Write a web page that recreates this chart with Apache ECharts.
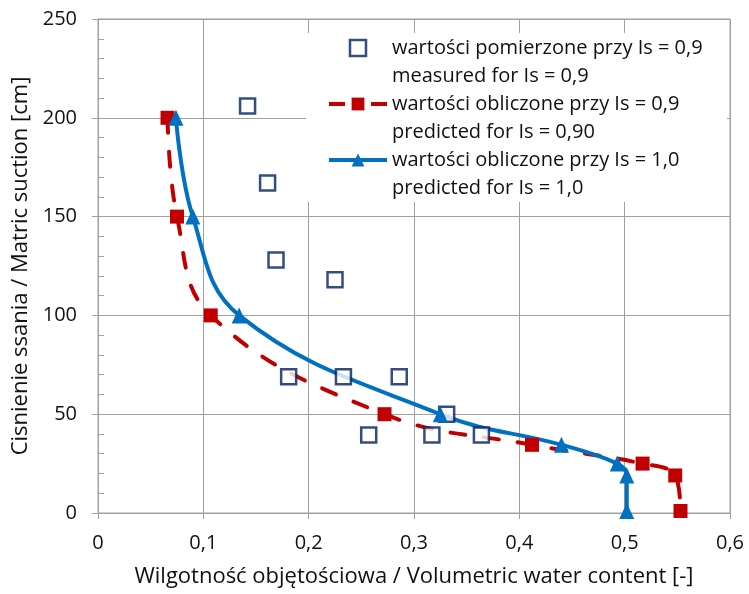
<!DOCTYPE html>
<html>
<head>
<meta charset="utf-8">
<script src="https://cdn.jsdelivr.net/npm/echarts@6/dist/echarts.min.js"></script>
<style>
html,body{margin:0;padding:0;background:#fff;}
#chart{width:749px;height:594px;}
</style>
</head>
<body>
<div id="chart"></div>
<script>
// ---- data ----
const measuredX = [0.142, 0.161, 0.169, 0.225, 0.181, 0.233, 0.286, 0.331, 0.257, 0.317, 0.364];
const measuredY = [206, 167, 128, 118, 69, 69, 69, 50, 39.5, 39.5, 39.5];
const pred09X = [0.066, 0.075, 0.107, 0.272, 0.412, 0.517, 0.548, 0.553];
const pred09Y = [200, 150, 100, 50, 34.5, 25, 19, 1];
const pred10X = [0.074, 0.090, 0.134, 0.325, 0.440, 0.493, 0.502, 0.502];
const pred10Y = [200, 150, 100, 50, 34.5, 25, 19, 1];
const seriesNames = ['measured', 'pred09', 'pred10'];
const legendLine1 = ['wartości pomierzone przy Is = 0,9', 'wartości obliczone przy Is = 0,9', 'wartości obliczone przy Is = 1,0'];
const legendLine2 = ['measured for Is = 0,9', 'predicted for Is = 0,90', 'predicted for Is = 1,0'];
const xTicks = ['0', '0,1', '0,2', '0,3', '0,4', '0,5', '0,6'];
const xTitle = 'Wilgotność objętościowa / Volumetric water content [-]';
const yTitle = 'Cisnienie ssania / Matric suction [cm]';

const zip = (xs, ys) => xs.map((x, i) => [x, ys[i]]);
const FONT = 'Open Sans';
const GRID = '#a0a0a0';

const chart = echarts.init(document.getElementById('chart'), null, {renderer: 'canvas'});
chart.setOption({
  animation: false,
  backgroundColor: '#fff',
  textStyle: {fontFamily: FONT},
  grid: {left: 98, right: 19, top: 19, bottom: 81, show: true, borderColor: GRID, borderWidth: 1},
  graphic: [{
    type: 'rect', z: 1, silent: true,
    shape: {x: 306, y: 33, width: 421, height: 169},
    style: {fill: '#fff'}
  }],
  xAxis: {
    type: 'value', min: 0, max: 0.6, interval: 0.1,
    axisLine: {show: true, lineStyle: {color: GRID, width: 1}},
    axisTick: {show: true, length: 6, lineStyle: {color: GRID}},
    splitLine: {show: true, lineStyle: {color: GRID, width: 1}},
    axisLabel: {
      fontSize: 20, color: '#111', margin: 20, fontFamily: FONT,
      formatter: (v) => xTicks[Math.round(v * 10)]
    },
    name: xTitle, nameLocation: 'middle', nameGap: 53,
    nameTextStyle: {fontSize: 22, color: '#111', fontFamily: FONT}
  },
  yAxis: [{
    type: 'value', min: 0, max: 250, interval: 50,
    axisLine: {show: true, lineStyle: {color: GRID, width: 1}},
    axisTick: {show: true, length: 6, lineStyle: {color: GRID}},
    splitLine: {show: true, lineStyle: {color: GRID, width: 1}},
    axisLabel: {fontSize: 20, color: '#111', margin: 21, fontFamily: FONT},
    name: yTitle, nameLocation: 'middle', nameGap: 60, nameRotate: 90,
    nameTextStyle: {fontSize: 22, color: '#111', fontFamily: FONT}
  }, {
    type: 'value', min: 0, max: 250, interval: 10, position: 'left',
    axisLine: {show: false},
    axisTick: {show: true, inside: true, length: 6, lineStyle: {color: GRID}},
    splitLine: {show: false},
    axisLabel: {show: false}
  }],
  legend: {
    left: 327, top: 6, padding: 0, orient: 'vertical',
    itemWidth: 58, itemHeight: 16, itemGap: -28,
    symbolKeepAspect: true,
    lineStyle: {width: 4},
    data: [
      {name: seriesNames[0], icon: 'path://M0,0L10,0L10,10L0,10Z',
       itemStyle: {color: '#fff', borderColor: '#002060', borderWidth: 2.5}},
      {name: seriesNames[1], lineStyle: {width: 4, type: [16, 26], cap: 'butt'}},
      {name: seriesNames[2]}
    ],
    formatter: (n) => {
      const i = seriesNames.indexOf(n);
      return '\n' + legendLine1[i] + '\n' + legendLine2[i];
    },
    textStyle: {fontSize: 20, lineHeight: 28, color: '#111', fontFamily: FONT}
  },
  series: [{
    name: seriesNames[0], type: 'scatter', yAxisIndex: 0,
    data: zip(measuredX, measuredY),
    symbol: 'rect', symbolSize: 15, z: 3,
    itemStyle: {color: '#fff', borderColor: '#002060', borderWidth: 2.5}
  }, {
    name: seriesNames[1], type: 'line', yAxisIndex: 0,
    data: zip(pred09X, pred09Y),
    smooth: 0.4,
    symbol: 'rect', symbolSize: 14, showSymbol: true,
    lineStyle: {color: '#c00000', width: 4, type: [15, 19], cap: 'round'},
    itemStyle: {color: '#c00000', borderWidth: 0}
  }, {
    name: seriesNames[2], type: 'line', yAxisIndex: 0,
    data: zip(pred10X, pred10Y),
    smooth: 0.4,
    symbol: 'triangle', symbolSize: [15, 16], showSymbol: true,
    lineStyle: {color: '#0070c0', width: 4},
    itemStyle: {color: '#0070c0', borderWidth: 0}
  }]
});
</script>
</body>
</html>
